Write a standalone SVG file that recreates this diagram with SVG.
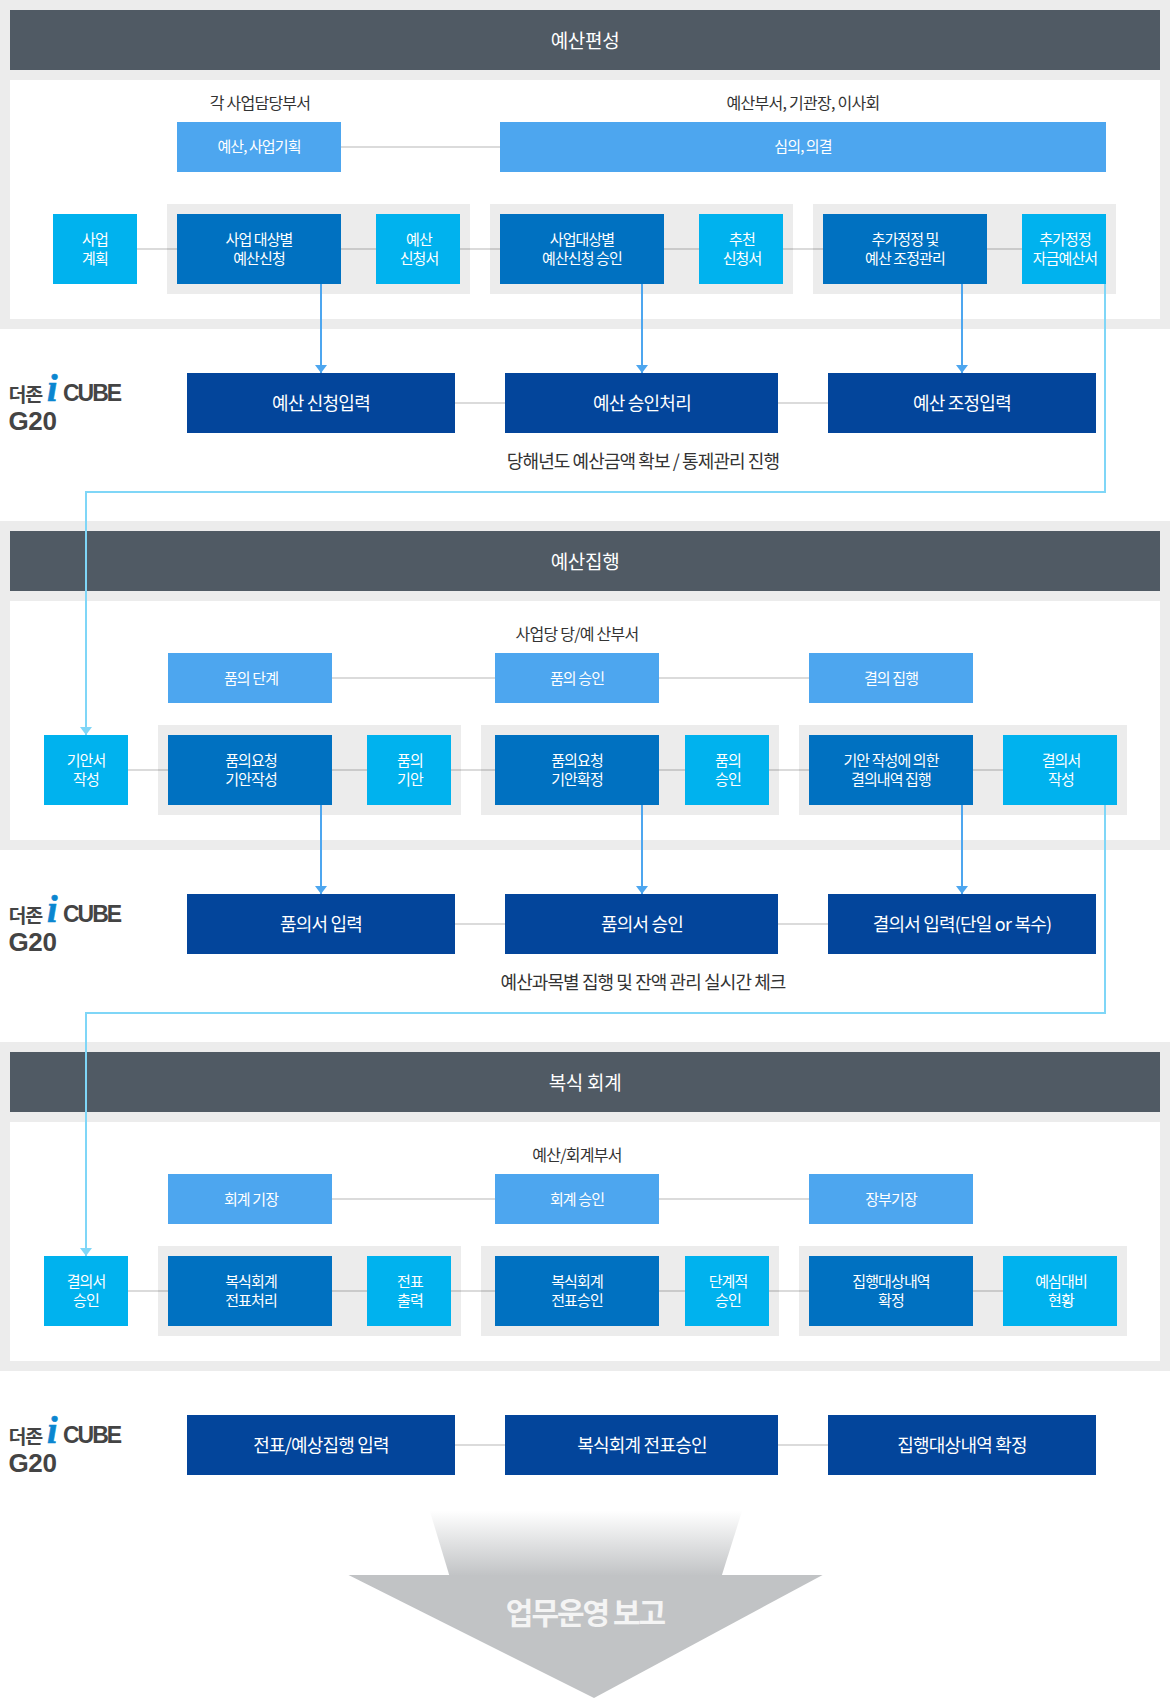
<svg xmlns="http://www.w3.org/2000/svg" width="1170" height="1699" viewBox="0 0 1170 1699">
<style>
text{font-family:"Noto Sans CJK KR","Noto Sans CJK SC",sans-serif;text-anchor:middle}
.band{fill:#ececec}.inner{fill:#fff}.head{fill:#505a64}.panel{fill:#ececec}
.lb{fill:#4da6ef}.cy{fill:#00b2ee}.mb{fill:#0071c1}.db{fill:#03459b}
.ht,.t,.dt,.cap,.cap2{transform:translateY(1px)}
.ht{fill:#fff;font-size:19px;letter-spacing:-.3px}
.t{fill:#fff;font-size:15px;letter-spacing:-.9px}
.dt{fill:#fff;font-size:18px;letter-spacing:-.8px}
.cap{fill:#333;font-size:16px;letter-spacing:-.75px}
.cap2{fill:#333;font-size:18px;letter-spacing:-.9px}
.ln{stroke:#000;stroke-opacity:.14;stroke-width:2;fill:none}
.ar{stroke:#4da6ef;stroke-width:2;fill:none;marker-end:url(#ab)}
.ac{stroke:#7fd6f7;stroke-width:2;fill:none;marker-end:url(#ac)}
.lg{fill:#444;font-family:"Liberation Sans",sans-serif;font-weight:700;text-anchor:start}
.lk{fill:#444;font-weight:700;font-size:19.5px;letter-spacing:-1.2px;text-anchor:start}
.li{fill:#0a86d0;stroke:#0a86d0;stroke-width:.6;font-family:"Liberation Serif",serif;font-style:italic;font-weight:700;font-size:38px;text-anchor:start}
</style>
<defs>
<marker id="ab" markerUnits="userSpaceOnUse" markerWidth="8" markerHeight="12" refX="8" refY="6" orient="auto" viewBox="0 0 8 12"><path d="M0 0L8 6L0 12Z" fill="#4da6ef"/></marker>
<marker id="ac" markerUnits="userSpaceOnUse" markerWidth="8" markerHeight="12" refX="8" refY="6" orient="auto" viewBox="0 0 8 12"><path d="M0 0L8 6L0 12Z" fill="#7fd6f7"/></marker>
<linearGradient id="fade" x1="0" y1="0" x2="0" y2="1"><stop offset=".08" stop-color="#c1c3c5" stop-opacity="0"/><stop offset="1" stop-color="#c1c3c5"/></linearGradient>
</defs>
<g id="bands">
<rect class="band" x="0" y="0" width="1170" height="329"/><rect class="inner" x="10" y="80" width="1150" height="239"/><rect class="head" x="10" y="10" width="1150" height="60"/>
<rect class="band" x="0" y="521" width="1170" height="329"/><rect class="inner" x="10" y="601" width="1150" height="239"/><rect class="head" x="10" y="531" width="1150" height="60"/>
<rect class="band" x="0" y="1042" width="1170" height="329"/><rect class="inner" x="10" y="1122" width="1150" height="239"/><rect class="head" x="10" y="1052" width="1150" height="60"/>
<text class="ht" x="585" y="47">예산편성</text><text class="ht" x="585" y="568">예산집행</text><text class="ht" x="585" y="1089">복식 회계</text>
<text class="cap" x="260" y="108">각 사업담당부서</text><text class="cap" x="803" y="108">예산부서, 기관장, 이사회</text>
<text class="cap" x="577" y="639">사업당 당/예 산부서</text><text class="cap" x="577" y="1160">예산/회계부서</text>
<text class="cap2" x="643" y="467">당해년도 예산금액 확보 / 통제관리 진행</text><text class="cap2" x="643" y="988">예산과목별 집행 및 잔액 관리 실시간 체크</text>
</g>
<g id="panels">
<rect class="panel" x="167" y="204" width="303" height="90"/><rect class="panel" x="490" y="204" width="303" height="90"/><rect class="panel" x="813" y="204" width="303" height="90"/>
<rect class="panel" x="158" y="725" width="303" height="90"/><rect class="panel" x="481" y="725" width="298" height="90"/><rect class="panel" x="799" y="725" width="328" height="90"/>
<rect class="panel" x="158" y="1246" width="303" height="90"/><rect class="panel" x="481" y="1246" width="298" height="90"/><rect class="panel" x="799" y="1246" width="328" height="90"/>
</g>
<g id="connectors">
<path class="ln" d="M341 147H500M137 249H1022M455 403H828"/>
<path class="ln" d="M332 678H809M128 770H1003M455 924H828"/>
<path class="ln" d="M332 1199H809M128 1291H1003M455 1445H828"/>
<path class="ar" d="M321 284V373"/><path class="ar" d="M642 284V373"/><path class="ar" d="M962 284V373"/>
<path class="ar" d="M321 805V894"/><path class="ar" d="M642 805V894"/><path class="ar" d="M962 805V894"/>
<path class="ac" d="M1105 284V492H86V735"/><path class="ac" d="M1105 805V1013H86V1256"/>
</g>
<g id="n-a1"><rect class="lb" x="177" y="122" width="164" height="50"/><text class="t" x="259" y="151">예산, 사업기획</text></g>
<g id="n-a2"><rect class="lb" x="500" y="122" width="606" height="50"/><text class="t" x="803" y="151">심의, 의결</text></g>
<g id="n-a3"><rect class="cy" x="53" y="214" width="84" height="70"/><text class="t" x="95" y="244">사업</text><text class="t" x="95" y="263">계획</text></g>
<g id="n-a4"><rect class="mb" x="177" y="214" width="164" height="70"/><text class="t" x="259" y="244">사업 대상별</text><text class="t" x="259" y="263">예산신청</text></g>
<g id="n-a5"><rect class="cy" x="376" y="214" width="84" height="70"/><text class="t" x="419" y="244">예산</text><text class="t" x="419" y="263">신청서</text></g>
<g id="n-a6"><rect class="mb" x="500" y="214" width="164" height="70"/><text class="t" x="582" y="244">사업대상별</text><text class="t" x="582" y="263">예산신청 승인</text></g>
<g id="n-a7"><rect class="cy" x="699" y="214" width="84" height="70"/><text class="t" x="742" y="244">추천</text><text class="t" x="742" y="263">신청서</text></g>
<g id="n-a8"><rect class="mb" x="823" y="214" width="164" height="70"/><text class="t" x="905" y="244">추가정정 및</text><text class="t" x="905" y="263">예산 조정관리</text></g>
<g id="n-a9"><rect class="cy" x="1022" y="214" width="84" height="70"/><text class="t" x="1065" y="244">추가정정</text><text class="t" x="1065" y="263">자금예산서</text></g>
<g id="n-a10"><rect class="db" x="187" y="373" width="268" height="60"/><text class="dt" x="321" y="409">예산 신청입력</text></g>
<g id="n-a11"><rect class="db" x="505" y="373" width="273" height="60"/><text class="dt" x="642" y="409">예산 승인처리</text></g>
<g id="n-a12"><rect class="db" x="828" y="373" width="268" height="60"/><text class="dt" x="962" y="409">예산 조정입력</text></g>
<g id="n-b1"><rect class="lb" x="168" y="653" width="164" height="50"/><text class="t" x="251" y="683">품의 단계</text></g>
<g id="n-b2"><rect class="lb" x="495" y="653" width="164" height="50"/><text class="t" x="577" y="683">품의 승인</text></g>
<g id="n-b3"><rect class="lb" x="809" y="653" width="164" height="50"/><text class="t" x="891" y="683">결의 집행</text></g>
<g id="n-b4"><rect class="cy" x="44" y="735" width="84" height="70"/><text class="t" x="86" y="765">기안서</text><text class="t" x="86" y="784">작성</text></g>
<g id="n-b5"><rect class="mb" x="168" y="735" width="164" height="70"/><text class="t" x="251" y="765">품의요청</text><text class="t" x="251" y="784">기안작성</text></g>
<g id="n-b6"><rect class="cy" x="367" y="735" width="84" height="70"/><text class="t" x="410" y="765">품의</text><text class="t" x="410" y="784">기안</text></g>
<g id="n-b7"><rect class="mb" x="495" y="735" width="164" height="70"/><text class="t" x="577" y="765">품의요청</text><text class="t" x="577" y="784">기안확정</text></g>
<g id="n-b8"><rect class="cy" x="685" y="735" width="84" height="70"/><text class="t" x="728" y="765">품의</text><text class="t" x="728" y="784">승인</text></g>
<g id="n-b9"><rect class="mb" x="809" y="735" width="164" height="70"/><text class="t" x="891" y="765">기안 작성에 의한</text><text class="t" x="891" y="784">결의내역 집행</text></g>
<g id="n-b10"><rect class="cy" x="1003" y="735" width="114" height="70"/><text class="t" x="1061" y="765">결의서</text><text class="t" x="1061" y="784">작성</text></g>
<g id="n-b11"><rect class="db" x="187" y="894" width="268" height="60"/><text class="dt" x="321" y="930">품의서 입력</text></g>
<g id="n-b12"><rect class="db" x="505" y="894" width="273" height="60"/><text class="dt" x="642" y="930">품의서 승인</text></g>
<g id="n-b13"><rect class="db" x="828" y="894" width="268" height="60"/><text class="dt" x="962" y="930">결의서 입력(단일 or 복수)</text></g>
<g id="n-c1"><rect class="lb" x="168" y="1174" width="164" height="50"/><text class="t" x="251" y="1204">회계 기장</text></g>
<g id="n-c2"><rect class="lb" x="495" y="1174" width="164" height="50"/><text class="t" x="577" y="1204">회계 승인</text></g>
<g id="n-c3"><rect class="lb" x="809" y="1174" width="164" height="50"/><text class="t" x="891" y="1204">장부기장</text></g>
<g id="n-c4"><rect class="cy" x="44" y="1256" width="84" height="70"/><text class="t" x="86" y="1286">결의서</text><text class="t" x="86" y="1305">승인</text></g>
<g id="n-c5"><rect class="mb" x="168" y="1256" width="164" height="70"/><text class="t" x="251" y="1286">복식회계</text><text class="t" x="251" y="1305">전표처리</text></g>
<g id="n-c6"><rect class="cy" x="367" y="1256" width="84" height="70"/><text class="t" x="410" y="1286">전표</text><text class="t" x="410" y="1305">출력</text></g>
<g id="n-c7"><rect class="mb" x="495" y="1256" width="164" height="70"/><text class="t" x="577" y="1286">복식회계</text><text class="t" x="577" y="1305">전표승인</text></g>
<g id="n-c8"><rect class="cy" x="685" y="1256" width="84" height="70"/><text class="t" x="728" y="1286">단계적</text><text class="t" x="728" y="1305">승인</text></g>
<g id="n-c9"><rect class="mb" x="809" y="1256" width="164" height="70"/><text class="t" x="891" y="1286">집행대상내역</text><text class="t" x="891" y="1305">확정</text></g>
<g id="n-c10"><rect class="cy" x="1003" y="1256" width="114" height="70"/><text class="t" x="1061" y="1286">예심대비</text><text class="t" x="1061" y="1305">현황</text></g>
<g id="n-c11"><rect class="db" x="187" y="1415" width="268" height="60"/><text class="dt" x="321" y="1451">전표/예상집행 입력</text></g>
<g id="n-c12"><rect class="db" x="505" y="1415" width="273" height="60"/><text class="dt" x="642" y="1451">복식회계 전표승인</text></g>
<g id="n-c13"><rect class="db" x="828" y="1415" width="268" height="60"/><text class="dt" x="962" y="1451">집행대상내역 확정</text></g>
<g id="logo-1"><text class="lk" x="8.5" y="401.5">더존</text><text class="li" x="47" y="401">i</text><text class="lg" x="63" y="401" font-size="23" letter-spacing="-2">CUBE</text><text class="lg" x="8.5" y="430" font-size="26" letter-spacing="-.4">G20</text></g>
<g id="logo-2" transform="translate(0 521)"><text class="lk" x="8.5" y="401.5">더존</text><text class="li" x="47" y="401">i</text><text class="lg" x="63" y="401" font-size="23" letter-spacing="-2">CUBE</text><text class="lg" x="8.5" y="430" font-size="26" letter-spacing="-.4">G20</text></g>
<g id="logo-3" transform="translate(0 1042)"><text class="lk" x="8.5" y="401.5">더존</text><text class="li" x="47" y="401">i</text><text class="lg" x="63" y="401" font-size="23" letter-spacing="-2">CUBE</text><text class="lg" x="8.5" y="430" font-size="26" letter-spacing="-.4">G20</text></g>
<g id="report">
<path d="M428 1505H744L721.6 1576H449.5Z" fill="url(#fade)"/>
<path d="M348.5 1575H822.6L594 1698Z" fill="#c1c3c5"/>
<text x="585" y="1624" fill="#f4f4f4" font-size="30" font-weight="700" letter-spacing="-2">업무운영 보고</text>
</g>
</svg>
